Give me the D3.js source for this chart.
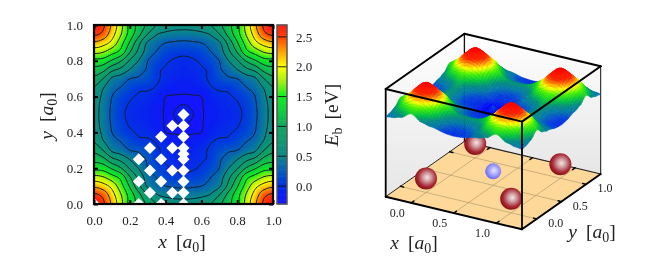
<!DOCTYPE html>
<html lang="en">
<head>
  <meta charset="UTF-8">
  <title>Binding energy map</title>
  <script src="https://d3js.org/d3.v7.min.js"></script>
  <style>
    html, body { margin: 0; padding: 0; background: #fff; }
    svg { display: block; filter: blur(0.35px); }
    text { font-family: "Liberation Serif", serif; fill: #222; }
    .tick text { font-family: "Liberation Serif", serif; font-size: 13px; fill: #222; }
  </style>
</head>
<body>
<div id="viz"></div>
<script>
// E_b (eV), quarter cell x,y = 0..0.5 in steps of 0.05
var energyRows = [
  [2.72, 2.55, 2.20, 1.83, 1.42, 1.17, 0.93, 0.73, 0.62, 0.57, 0.55],
  [2.55, 2.43, 2.11, 1.77, 1.40, 1.08, 0.75, 0.52, 0.45, 0.42, 0.42],
  [2.20, 2.11, 1.92, 1.60, 1.22, 0.82, 0.46, 0.34, 0.25, 0.22, 0.20],
  [1.83, 1.77, 1.60, 1.42, 1.02, 0.68, 0.38, 0.24, 0.12, 0.07, 0.05],
  [1.42, 1.40, 1.22, 1.02, 0.72, 0.49, 0.25, 0.13, 0.03, -0.02, -0.04],
  [1.17, 1.08, 0.82, 0.68, 0.49, 0.33, 0.22, 0.04, -0.02, -0.05, -0.07],
  [0.93, 0.75, 0.46, 0.38, 0.25, 0.22, 0.14, 0.03, -0.04, -0.08, -0.10],
  [0.73, 0.52, 0.34, 0.24, 0.13, 0.04, 0.03, -0.02, -0.10, -0.14, -0.16],
  [0.62, 0.45, 0.25, 0.12, 0.03, -0.02, -0.04, -0.10, -0.25, -0.27, -0.27],
  [0.57, 0.42, 0.22, 0.07, -0.02, -0.05, -0.08, -0.14, -0.27, -0.30, -0.23],
  [0.55, 0.42, 0.20, 0.05, -0.04, -0.07, -0.10, -0.16, -0.27, -0.23, 0.15]
];
var contourLevels = [-0.25, 0, 0.25, 0.5, 0.75, 1, 1.25, 1.5, 1.75, 2, 2.25, 2.5];
var colorStops = [-0.3, -0.1, 0.1, 0.3, 0.5, 0.75, 1, 1.25, 1.5, 1.75, 2, 2.25, 2.5, 2.7];
var colorValues = ["#1414ff", "#0820f0", "#0044d8", "#0866b0", "#0a8a88", "#0e9a70", "#10a860",
  "#10cc40", "#10f020", "#a0f010", "#ffff00", "#ffa000", "#ff4000", "#ff1a1a"];
// the 3D surface runs hotter than the colour bar
var surfaceStops = [-0.3, 0, 0.25, 0.5, 0.8, 1.2, 1.55, 1.8, 2.1, 2.7];
var surfaceValues = ["#0000ff", "#0040d8", "#0078a8", "#008a80", "#00c040", "#40f000", "#ffff00", "#ff9000", "#ff2000", "#ff0000"];

// white diamonds (sampled sites)
var diamondX = [0.5, 0.5, 0.5, 0.5, 0.5, 0.5, 0.5, 0.5, 0.5, 0.5,
  0.4375, 0.4375, 0.4375, 0.4375, 0.375, 0.375, 0.375, 0.375,
  0.3125, 0.3125, 0.3125, 0.25, 0.25, 0.25, 0];
var diamondY = [0.5, 0.4375, 0.375, 0.3125, 0.28, 0.25, 0.1875, 0.125, 0.0625, 0,
  0.4375, 0.3125, 0.1875, 0.0625, 0.375, 0.25, 0.125, 0,
  0.3125, 0.1875, 0.0625, 0.25, 0.125, 0, 0];

var mapTicks = [0, 0.2, 0.4, 0.6, 0.8, 1];
var barTicks = [0, 0.5, 1, 1.5, 2, 2.5];
var boxTicks = [0, 0.5, 1];
var atomX = [0, 1, 1, 0];
var atomY = [0, 0, 1, 1];
var centerAtomX = [0.5];
var centerAtomY = [0.5];

var svg = d3.select("#viz").append("svg").attr("width", 670).attr("height", 277);
var defs = svg.append("defs");

var color = d3.scaleLinear().domain(colorStops).range(colorValues).clamp(true);
var surfaceColor = d3.scaleLinear().domain(surfaceStops).range(surfaceValues).clamp(true);

// catmull-rom through the table, cell is periodic and mirrored
function tableValue(i, j) {
  i = ((i % 20) + 20) % 20;
  j = ((j % 20) + 20) % 20;
  if (i > 10) i = 20 - i;
  if (j > 10) j = 20 - j;
  return energyRows[j][i];
}
function cr(a, b, c, d, t) {
  return 0.5 * (2 * b + (c - a) * t + (2 * a - 5 * b + 4 * c - d) * t * t + (3 * b - a - 3 * c + d) * t * t * t);
}
function energyAt(x, y) {
  var gx = x / 0.05, gy = y / 0.05;
  var i = Math.floor(gx + 1e-9), j = Math.floor(gy + 1e-9);
  var tx = gx - i, ty = gy - j;
  var rows = [-1, 0, 1, 2].map(function(dj) {
    return cr(tableValue(i - 1, j + dj), tableValue(i, j + dj), tableValue(i + 1, j + dj), tableValue(i + 2, j + dj), tx);
  });
  return cr(rows[0], rows[1], rows[2], rows[3], ty);
}

// ---- left panel: map ----
var x = d3.scaleLinear().domain([0, 1]).range([94, 273]);
var y = d3.scaleLinear().domain([0, 1]).range([204, 25]);

defs.append("clipPath").attr("id", "mapClip").append("rect")
  .attr("x", x(0)).attr("y", y(1)).attr("width", x(1) - x(0)).attr("height", y(0) - y(1));

var step = 0.0125, n = 81;
var grid = new Array(n * n);
for (var jj = 0; jj < n; jj++) {
  for (var ii = 0; ii < n; ii++) grid[jj * n + ii] = energyAt(ii * step, jj * step);
}
var toPlot = d3.geoPath(d3.geoTransform({
  point: function(px, py) { this.stream.point(x((px - 0.5) * step), y((py - 0.5) * step)); }
}));

var map = svg.append("g").attr("clip-path", "url(#mapClip)");
map.append("rect").attr("x", x(0)).attr("y", y(1)).attr("width", x(1) - x(0)).attr("height", y(0) - y(1))
  .attr("fill", color(-0.3));

var fillLevels = d3.range(-0.3, 2.72, 0.02);
map.selectAll("path.band")
  .data(d3.contours().size([n, n]).thresholds(fillLevels)(grid))
  .enter().append("path")
    .attr("class", "band")
    .attr("d", toPlot)
    .attr("fill", function(d) { return color(d.value + 0.01); });

map.selectAll("path.line")
  .data(d3.contours().size([n, n]).thresholds(contourLevels)(grid))
  .enter().append("path")
    .attr("class", "line")
    .attr("d", toPlot)
    .attr("fill", "none")
    .attr("stroke", "#10202a")
    .attr("stroke-width", 1);

map.selectAll("path.site")
  .data(d3.range(diamondX.length))
  .enter().append("path")
    .attr("class", "site")
    .attr("d", d3.symbol().type(d3.symbolSquare).size(72))
    .attr("transform", function(i) { return "translate(" + x(diamondX[i]) + "," + y(diamondY[i]) + ") rotate(45)"; })
    .attr("fill", "#fff");

function styleAxis(g) {
  g.select(".domain").remove();
  g.selectAll(".tick line").attr("stroke", "#000").attr("stroke-width", 2);
}
svg.append("g").attr("transform", "translate(0,204)")
  .call(d3.axisBottom(x).tickValues(mapTicks).tickFormat(d3.format(".1f")).tickSize(-4).tickPadding(12)).call(styleAxis);
svg.append("g").attr("transform", "translate(94,0)")
  .call(d3.axisLeft(y).tickValues(mapTicks).tickFormat(d3.format(".1f")).tickSize(-4).tickPadding(11)).call(styleAxis);
svg.append("g").attr("transform", "translate(0,25)")
  .call(d3.axisTop(x).tickValues(mapTicks).tickFormat("").tickSize(-4)).call(styleAxis);
svg.append("g").attr("transform", "translate(273,0)")
  .call(d3.axisRight(y).tickValues(mapTicks).tickFormat("").tickSize(-4)).call(styleAxis);

svg.append("rect").attr("x", x(0)).attr("y", y(1)).attr("width", x(1) - x(0)).attr("height", y(0) - y(1))
  .attr("fill", "none").attr("stroke", "#000").attr("stroke-width", 2.2);

// axis label with italic name and subscript
function unitLabel(sel, name) {
  sel.append("tspan").attr("font-style", "italic").text(name);
  sel.append("tspan").attr("dx", 9).text("[");
  sel.append("tspan").attr("font-style", "italic").text("a");
  sel.append("tspan").attr("font-size", "14px").attr("dy", 4).text("0");
  sel.append("tspan").attr("dy", -4).text("]");
}
svg.append("text").attr("x", 182).attr("y", 248).attr("text-anchor", "middle").attr("font-size", "19.5px")
  .call(unitLabel, "x");
svg.append("text").attr("transform", "translate(53,116) rotate(-90)").attr("text-anchor", "middle").attr("font-size", "19.5px")
  .call(unitLabel, "y");

// ---- colour bar ----
var barY = d3.scaleLinear().domain([-0.3, 2.7]).range([204, 25]);
var bar = svg.append("g");
bar.selectAll("rect")
  .data(d3.range(-0.3, 2.7, 0.02))
  .enter().append("rect")
    .attr("x", 277).attr("width", 10)
    .attr("y", function(d) { return barY(d + 0.02) - 0.3; })
    .attr("height", function(d) { return barY(d) - barY(d + 0.02) + 0.6; })
    .attr("fill", function(d) { return color(d); });
bar.selectAll("line")
  .data(barTicks)
  .enter().append("line")
    .attr("x1", 277).attr("x2", 287)
    .attr("y1", function(d) { return barY(d); })
    .attr("y2", function(d) { return barY(d); })
    .attr("stroke", "#111").attr("stroke-width", 0.9);
bar.append("rect").attr("x", 277).attr("y", 25).attr("width", 10).attr("height", 179)
  .attr("fill", "none").attr("stroke", "#555").attr("stroke-width", 1.5);
svg.append("g").attr("transform", "translate(287,0)")
  .call(d3.axisRight(barY).tickValues(barTicks).tickFormat(d3.format(".1f")).tickSize(0).tickPadding(9))
  .call(function(g) { g.select(".domain").remove(); });

var ebLabel = svg.append("text").attr("transform", "translate(338,115) rotate(-90)")
  .attr("text-anchor", "middle").attr("font-size", "19.5px");
ebLabel.append("tspan").attr("font-style", "italic").text("E");
ebLabel.append("tspan").attr("font-size", "14px").attr("dy", 4).text("b");
ebLabel.append("tspan").attr("dy", -4).attr("dx", 8).text("[eV]");

// ---- right panel: box and surface ----
var along = d3.scaleLinear().domain([-0.3, 1.3]).range([0, 1]);
var rise = d3.scaleLinear().domain([-0.3, 2.72]).range([0.692, 1.02]);
var boxX = d3.scaleLinear().domain([0, 1]).range([0, 136.3]);
var boxXd = d3.scaleLinear().domain([0, 1]).range([0, 32.6]);
var boxY = d3.scaleLinear().domain([0, 1]).range([0, 78.7]);
var boxYd = d3.scaleLinear().domain([0, 1]).range([0, -55.3]);
var boxZ = d3.scaleLinear().domain([0, 1]).range([0, 107.7]);

// x,y in lattice units, h is fraction of box height
function project(px, py, h) {
  var fx = along(px), fy = along(py);
  return [385.7 + boxX(fx) + boxY(fy), 196.7 + boxXd(fx) + boxYd(fy) - boxZ(h)];
}
function polyPath(pts) { return "M" + pts.map(function(p) { return p[0] + "," + p[1]; }).join("L") + "Z"; }
function segment(g, a, b, w, col) {
  g.append("line").attr("x1", a[0]).attr("y1", a[1]).attr("x2", b[0]).attr("y2", b[1])
    .attr("stroke", col).attr("stroke-width", w).attr("stroke-linecap", "round");
}

var wall = defs.append("linearGradient").attr("id", "wall").attr("x1", 0).attr("x2", 0).attr("y1", 0).attr("y2", 1);
wall.append("stop").attr("offset", "0%").attr("stop-color", "#ffffff");
wall.append("stop").attr("offset", "100%").attr("stop-color", "#e6e6e6");

function sphereGradient(id, stops) {
  var g = defs.append("radialGradient").attr("id", id).attr("cx", "55%").attr("cy", "45%").attr("r", "55%");
  stops.forEach(function(s) { g.append("stop").attr("offset", s[0]).attr("stop-color", s[1]); });
}
sphereGradient("redAtom", [["0%", "#f2e6e6"], ["35%", "#d09a9e"], ["75%", "#a82a34"], ["100%", "#8c1018"]]);
sphereGradient("blueAtom", [["0%", "#e8e8ff"], ["50%", "#a8a8ff"], ["100%", "#6a6af0"]]);

var box = svg.append("g");
var lo = -0.3, hi = 1.3;

// back walls and floor
box.append("path").attr("fill", "url(#wall)")
  .attr("d", polyPath([project(lo, lo, 1), project(lo, hi, 1), project(lo, hi, 0), project(lo, lo, 0)]));
box.append("path").attr("fill", "url(#wall)")
  .attr("d", polyPath([project(lo, hi, 1), project(hi, hi, 1), project(hi, hi, 0), project(lo, hi, 0)]));
box.append("path").attr("fill", "#fdd898")
  .attr("d", polyPath([project(lo, lo, 0), project(hi, lo, 0), project(hi, hi, 0), project(lo, hi, 0)]));

boxTicks.forEach(function(t) {
  segment(box, project(t, lo, 0), project(t, hi, 0), 0.6, "#a8946a");
  segment(box, project(lo, t, 0), project(hi, t, 0), 0.6, "#a8946a");
});

// back edges
segment(box, project(lo, lo, 0), project(lo, hi, 0), 1, "#222");
segment(box, project(lo, hi, 0), project(hi, hi, 0), 1.2, "#222");
segment(box, project(lo, hi, 0), project(lo, hi, 1), 1.3, "#111");
segment(box, project(lo, hi, 1), project(lo, lo, 1), 2, "#000");
segment(box, project(lo, hi, 1), project(hi, hi, 1), 2, "#000");
segment(box, project(hi, hi, 0), project(hi, hi, 1), 1, "#111");
segment(box, project(lo, lo, 0), project(lo, lo, 1), 1.8, "#000");

// ticks on all floor edges
boxTicks.forEach(function(t) {
  var a = project(t, lo, 0);
  segment(box, a, [a[0] + 2.6, a[1] - 1.8], 1.5, "#000");
  a = project(t, hi, 0);
  segment(box, a, [a[0] - 2.6, a[1] + 1.8], 1.5, "#000");
  a = project(lo, t, 0);
  segment(box, a, [a[0] + 3.2, a[1] + 0.8], 1.5, "#000");
  a = project(hi, t, 0);
  segment(box, a, [a[0] - 3.2, a[1] - 0.8], 1.5, "#000");
});

// atoms float a little above the floor
var atomLift = 0.13;
box.selectAll("circle.red")
  .data(d3.range(atomX.length))
  .enter().append("circle").attr("class", "red")
    .attr("cx", function(i) { return project(atomX[i], atomY[i], atomLift)[0]; })
    .attr("cy", function(i) { return project(atomX[i], atomY[i], atomLift)[1]; })
    .attr("r", 11).attr("fill", "url(#redAtom)");
box.selectAll("circle.blue")
  .data(d3.range(centerAtomX.length))
  .enter().append("circle").attr("class", "blue")
    .attr("cx", function(i) { return project(centerAtomX[i], centerAtomY[i], atomLift)[0]; })
    .attr("cy", function(i) { return project(centerAtomX[i], centerAtomY[i], atomLift)[1]; })
    .attr("r", 8).attr("fill", "url(#blueAtom)");

// surface, painted from the back corner forward
var surfStep = 0.025, surfCount = 64;
var quads = [];
for (var b = surfCount - 1; b >= 0; b--) {
  for (var a = 0; a < surfCount; a++) {
    quads.push([lo + a * surfStep, lo + b * surfStep]);
  }
}
box.append("g").selectAll("path")
  .data(quads)
  .enter().append("path")
    .each(function(q) {
      var e00 = energyAt(q[0], q[1]), e10 = energyAt(q[0] + surfStep, q[1]);
      var e11 = energyAt(q[0] + surfStep, q[1] + surfStep), e01 = energyAt(q[0], q[1] + surfStep);
      var c = surfaceColor((e00 + e10 + e11 + e01) / 4);
      d3.select(this)
        .attr("d", polyPath([
          project(q[0], q[1], rise(e00)),
          project(q[0] + surfStep, q[1], rise(e10)),
          project(q[0] + surfStep, q[1] + surfStep, rise(e11)),
          project(q[0], q[1] + surfStep, rise(e01))
        ]))
        .attr("fill", c).attr("stroke", c).attr("stroke-width", 0.5);
    });

// front edges go over everything
segment(box, project(lo, lo, 1), project(hi, lo, 1), 2, "#000");
segment(box, project(hi, lo, 1), project(hi, hi, 1), 2, "#000");
segment(box, project(hi, lo, 0), project(hi, lo, 1), 1.8, "#000");
segment(box, project(lo, lo, 0), project(hi, lo, 0), 2, "#000");
segment(box, project(hi, lo, 0), project(hi, hi, 0), 2, "#000");

var tickFmt = d3.format(".1f");
box.selectAll("text.xt")
  .data(boxTicks)
  .enter().append("text").attr("class", "xt")
    .attr("x", function(t) { return project(t, lo, 0)[0] - 14; })
    .attr("y", function(t) { return project(t, lo, 0)[1] + 14; })
    .attr("text-anchor", "middle").attr("font-size", "12px")
    .text(tickFmt);
box.selectAll("text.yt")
  .data(boxTicks)
  .enter().append("text").attr("class", "yt")
    .attr("x", function(t) { return project(hi, t, 0)[0] + 19; })
    .attr("y", function(t) { return project(hi, t, 0)[1] + 8; })
    .attr("text-anchor", "middle").attr("font-size", "12px")
    .text(tickFmt);

svg.append("text").attr("x", 414).attr("y", 249).attr("text-anchor", "middle").attr("font-size", "19.5px")
  .call(unitLabel, "x");
svg.append("text").attr("x", 592).attr("y", 238).attr("text-anchor", "middle").attr("font-size", "19.5px")
  .call(unitLabel, "y");
</script>
</body>
</html>
